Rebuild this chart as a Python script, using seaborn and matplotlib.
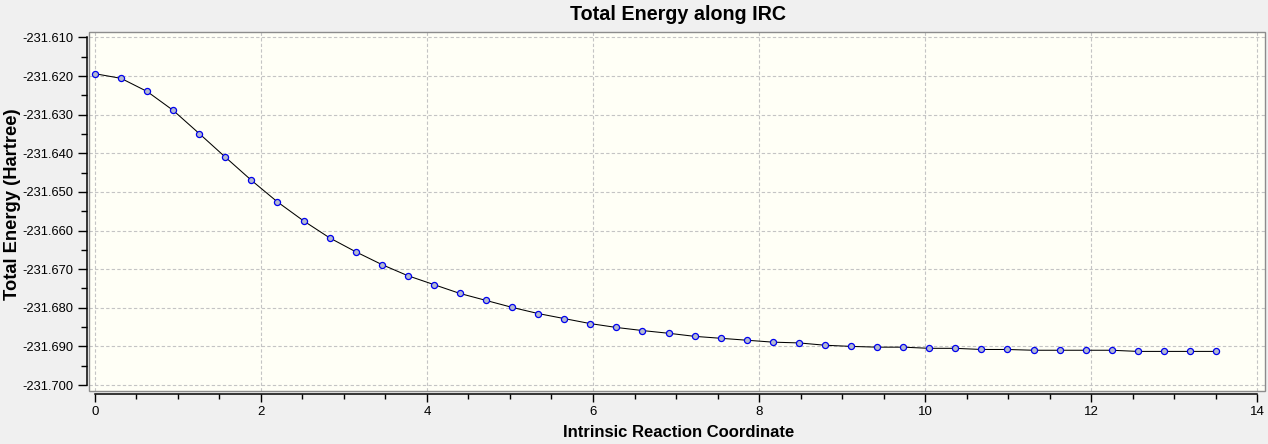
import numpy as np
import pandas as pd
import seaborn as sns
import matplotlib
matplotlib.use('Agg')
import matplotlib.pyplot as plt
from matplotlib.ticker import MultipleLocator, FormatStrFormatter
from matplotlib.patches import Rectangle

# IRC data
irc_step = 0.3141
n_points = 44
coord = [round(i * irc_step, 4) for i in range(n_points)]
energy = [
    -231.6194, -231.6206, -231.6240, -231.6289, -231.6349, -231.6410, -231.6470,
    -231.6526, -231.6575, -231.6619, -231.6655, -231.6688, -231.6717, -231.6740,
    -231.6763, -231.6781, -231.6799, -231.6815,
    -231.6828, -231.6841, -231.6851, -231.6859, -231.6866, -231.6874, -231.6879,
    -231.6884, -231.6889, -231.6891, -231.6897,
    -231.6900, -231.6902, -231.6902, -231.6905, -231.6905, -231.6908, -231.6908,
    -231.6910, -231.6910, -231.6910, -231.6910, -231.6913, -231.6913, -231.6913,
    -231.6913,
]
x_ticks = [0, 2, 4, 6, 8, 10, 12, 14]

df = pd.DataFrame({'coord': coord, 'energy': energy})

sns.set_theme(style='ticks')
plt.rcParams['font.family'] = ['Liberation Sans', 'DejaVu Sans']
plt.rcParams['axes.unicode_minus'] = False
plt.rcParams['text.color'] = 'black'
plt.rcParams['axes.labelcolor'] = 'black'

W, H = 1268, 444
fig = plt.figure(figsize=(W / 100, H / 100), dpi=100, facecolor='#f0f0f0')
ax = fig.add_axes([89 / W, 1 - 391 / H, (1265 - 89) / W, (391 - 32) / H])
ax.set_facecolor('#fffff6')

sns.lineplot(data=df, x='coord', y='energy', ax=ax, color='black', linewidth=0.75,
             marker='o', markersize=4.4, markerfacecolor='#b4bad0',
             markeredgecolor='#0000ee', markeredgewidth=0.9, zorder=3)

ax.set_xlim(-0.072, 14.096)
ax.set_ylim(-231.70155, -231.6086)

ax.set_xticks(x_ticks)
ax.xaxis.set_minor_locator(MultipleLocator(0.5))
ax.yaxis.set_minor_locator(MultipleLocator(0.005))
ax.yaxis.set_major_formatter(FormatStrFormatter('%.3f'))
ax.set_yticks(np.round(np.arange(-231.700, -231.6095, 0.01), 3))

ax.grid(True, which='major', linestyle=(0, (3, 2)), color='#c4c4c4', linewidth=0.8)

for side in ['top', 'right']:
    ax.spines[side].set_visible(False)
ax.spines['left'].set_position(('outward', 1.7))
ax.spines['bottom'].set_position(('outward', 2.3))
ax.spines['left'].set_bounds(-231.700, -231.610)
ax.spines['bottom'].set_bounds(0, 14)
for side in ['left', 'bottom']:
    ax.spines[side].set_color('black')
    ax.spines[side].set_linewidth(1.1)

ax.tick_params(axis='y', which='major', length=6.5, width=1, pad=3, labelsize=9.3,
               colors='black', labelcolor='black')
ax.tick_params(axis='y', which='minor', length=4.5, width=1, colors='black')
ax.tick_params(axis='x', which='major', length=5.8, width=1, pad=3, labelsize=9.5,
               colors='black', labelcolor='black')
ax.tick_params(axis='x', which='minor', length=3.3, width=1, colors='black')

# grey frame around plotting area
ax.add_patch(Rectangle((0, 0), 1, 1, transform=ax.transAxes, fill=False,
                       edgecolor='#8c8c8c', linewidth=1.0, clip_on=False, zorder=5))

# titles placed in pixel terms of the figure
fig.text(677.5 / W, 1 - 19.5 / H, 'Total Energy along IRC', fontsize=14.2,
         fontweight='bold', ha='center', va='baseline')
fig.text(679 / W, 1 - 437 / H, 'Intrinsic Reaction Coordinate', fontsize=12,
         fontweight='bold', ha='center', va='baseline')
fig.text(12.7 / W, 1 - 204 / H, 'Total Energy (Hartree)', fontsize=13.2,
         fontweight='bold', rotation=90, ha='center', va='center')
ax.set_xlabel('')
ax.set_ylabel('')

fig.savefig('out.png', dpi=100, facecolor=fig.get_facecolor())
